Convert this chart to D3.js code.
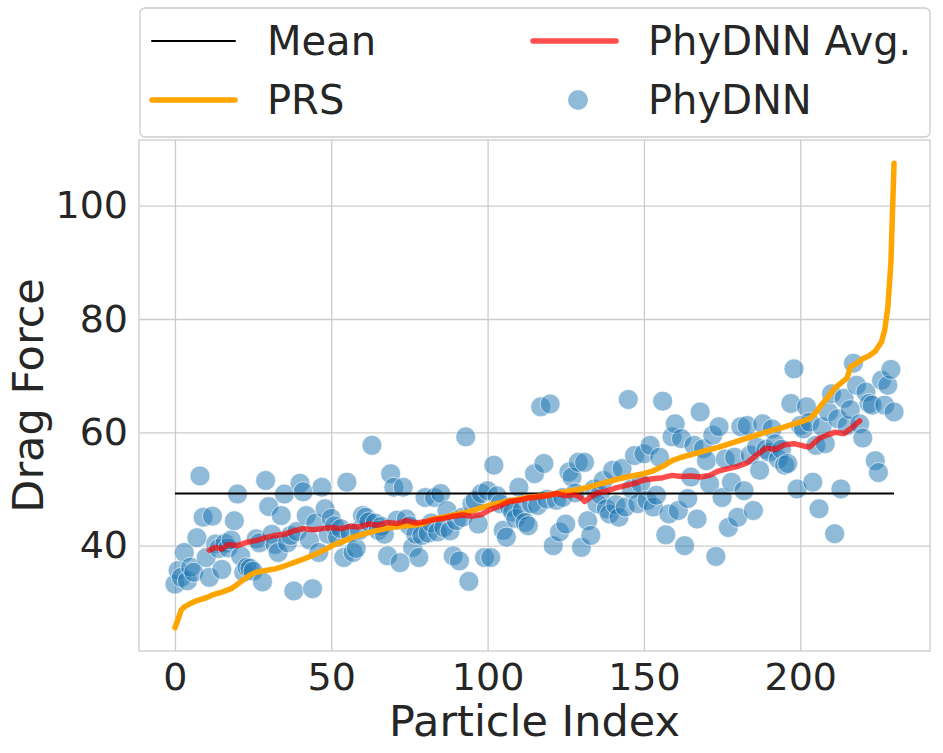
<!DOCTYPE html>
<html>
<head>
    <title></title>
    <script src="https://d3js.org/d3.v7.min.js"></script>
    <style>
        body { margin: 0; background: #fff; }
        text { font-family: "DejaVu Sans", sans-serif; fill: #262626; }
    </style>
</head>
<body>
    <svg id="chart" width="943" height="753"></svg>

    <script>
    // PhyDNN predictions, one per particle index 0..230
    let phydnn = [
        33.2, 35.6, 34.4, 38.8, 33.8, 36.2, 35.3, 41.4, 52.3, 45.0,
        37.9, 34.4, 45.2, 40.3, 39.5, 35.8, 40.4, 39.6, 41.0, 44.4,
        49.1, 38.2, 35.3, 36.2, 36.0, 35.5, 41.2, 40.5, 33.6, 51.5,
        46.9, 42.0, 40.2, 38.8, 45.3, 49.1, 40.5, 41.8, 32.0, 42.5,
        51.0, 49.5, 45.3, 41.0, 32.4, 44.0, 38.8, 50.3, 46.5, 42.0,
        44.8, 43.5, 41.5, 43.0, 37.9, 51.2, 42.2, 38.8, 39.5, 42.7,
        45.3, 45.0, 44.2, 57.7, 44.0, 42.7, 43.4, 42.0, 38.2, 52.7,
        50.3, 44.5, 37.0, 50.3, 44.7, 43.5, 39.7, 42.0, 37.9, 41.8,
        48.5, 42.2, 44.0, 48.5, 42.4, 49.2, 43.2, 46.2, 42.6, 38.2,
        44.4, 37.3, 45.0, 59.2, 33.7, 47.4, 48.0, 43.8, 49.2, 37.9,
        49.7, 37.9, 54.2, 48.8, 47.4, 42.7, 41.5, 46.8, 45.9, 44.8,
        50.3, 46.2, 44.1, 43.5, 47.4, 52.7, 47.1, 64.5, 54.5, 48.2,
        65.0, 40.0, 48.0, 42.4, 48.5, 43.8, 53.0, 52.1, 49.3, 54.7,
        39.7, 54.7, 44.4, 41.8, 50.0, 47.4, 49.0, 51.5, 46.5, 45.6,
        53.3, 47.2, 45.0, 53.6, 46.8, 65.8, 50.0, 55.9, 47.4, 51.0,
        56.2, 48.0, 57.7, 46.8, 48.9, 55.6, 65.5, 41.9, 45.6, 59.2,
        61.5, 46.2, 58.9, 40.0, 48.3, 52.1, 57.7, 44.7, 63.6, 57.1,
        55.0, 50.9, 59.5, 38.1, 61.0, 48.5, 55.3, 43.2, 51.2, 55.6,
        45.0, 61.0, 49.7, 61.2, 56.0, 46.2, 57.4, 53.3, 61.5, 57.0,
        56.5, 60.6, 58.0, 55.3, 57.0, 54.2, 54.5, 65.1, 71.2, 50.0,
        61.2, 60.6, 64.5, 61.8, 51.2, 57.7, 46.5, 61.0, 58.0, 63.6,
        66.8, 42.1, 62.4, 50.0, 66.0, 61.2, 64.0, 72.2, 68.3, 61.5,
        59.0, 67.1, 65.1, 64.8, 55.0, 52.9, 69.2, 64.8, 68.3, 71.1,
        63.6
    ];

    // PRS (sorted), read at these indices
    let prsIdx = [0, 1, 2, 3, 5, 7, 10, 12, 15, 18, 21, 24, 26, 29, 32, 35, 38, 41, 45, 48,
                  51, 54, 57, 60, 64, 68, 72, 76, 79, 82, 86, 90, 94, 98, 102, 106, 110, 114, 118, 122,
                  126, 130, 134, 138, 142, 146, 150, 153, 156, 159, 162, 166, 170, 174, 178, 182, 186, 190, 194, 198,
                  201, 203, 205, 207, 209, 211, 213, 215, 216, 218, 220, 222, 224, 226, 227, 228, 229, 230];
    let prsVal = [25.5, 27.0, 28.6, 29.2, 29.8, 30.3, 30.8, 31.3, 31.8, 32.4, 33.6, 34.8, 35.3, 35.6, 35.9, 36.4, 37.0, 37.6, 38.5, 39.3,
                  40.2, 40.8, 41.5, 42.0, 42.6, 43.1, 43.4, 43.6, 43.8, 44.6, 45.0, 45.5, 46.0, 46.7, 47.3, 47.8, 48.2, 48.6, 48.8, 49.2,
                  49.6, 50.0, 50.6, 51.2, 51.8, 52.3, 52.7, 53.2, 54.0, 55.0, 55.6, 56.2, 56.8, 57.4, 58.1, 58.8, 59.5, 60.2, 60.8, 61.5,
                  62.0, 62.4, 63.5, 65.0, 66.3, 67.8, 68.7, 69.6, 71.5, 72.2, 73.0, 73.5, 74.3, 76.0, 78.0, 82.0, 90.0, 107.5];

    // PhyDNN rolling average
    let avgIdx = [11, 13, 15, 17, 20, 23, 26, 29, 32, 35, 38, 41, 44, 47, 50, 53, 56, 59, 62, 65, 68,
                  71, 74, 77, 80, 83, 86, 89, 92, 95, 98, 101, 104, 107, 110, 113, 116, 119, 122, 125, 128,
                  130, 131, 133, 135, 138, 141, 144, 147, 150, 153, 156, 159, 162, 165, 168, 171, 174, 177, 180, 183,
                  186, 189, 192, 195, 198, 201, 203, 206, 209, 211, 214, 216, 219];
    let avgVal = [39.2, 39.7, 39.4, 40.2, 40.0, 40.6, 40.9, 41.4, 41.8, 42.0, 42.6, 43.0, 42.8, 43.0, 43.2, 43.0, 43.4, 43.3, 43.8, 43.6, 44.1,
                  43.9, 44.4, 44.0, 44.2, 44.6, 44.8, 45.2, 45.4, 45.2, 45.5, 46.4, 47.0, 47.8, 48.0, 48.4, 48.6, 48.8, 49.2, 48.8, 49.0,
                  48.4, 47.8, 48.6, 49.3, 49.6, 50.2, 50.6, 51.0, 51.6, 51.8, 52.0, 52.4, 52.2, 52.3, 52.1, 52.4, 53.2, 53.6, 54.0, 54.6,
                  56.0, 57.2, 57.0, 57.8, 58.0, 57.6, 57.4, 58.9, 59.6, 60.0, 59.8, 60.6, 62.0];

    let meanValue = 49.2;
    let xTicks = [0, 50, 100, 150, 200];
    let yTicks = [40, 60, 80, 100];

    let svg = d3.select("#chart");
    let pL = 139, pR = 930, pT = 140, pB = 651;

    let x = d3.scaleLinear().domain([-11.5, 241.5]).range([pL, pR]);
    let y = d3.scaleLinear().domain([21.4, 111.6]).range([pB, pT]);

    // grid
    svg.append("g")
        .attr("transform", "translate(0," + pB + ")")
        .call(d3.axisBottom(x).tickValues(xTicks).tickSize(-(pB - pT)).tickFormat(""))
        .call(g => g.select(".domain").remove())
        .call(g => g.selectAll("line").attr("stroke", "#cccccc").attr("stroke-width", 1.3));
    svg.append("g")
        .attr("transform", "translate(" + pL + ",0)")
        .call(d3.axisLeft(y).tickValues(yTicks).tickSize(-(pR - pL)).tickFormat(""))
        .call(g => g.select(".domain").remove())
        .call(g => g.selectAll("line").attr("stroke", "#cccccc").attr("stroke-width", 1.3));

    // frame
    svg.append("rect")
        .attr("x", pL).attr("y", pT)
        .attr("width", pR - pL).attr("height", pB - pT)
        .attr("fill", "none").attr("stroke", "#cccccc").attr("stroke-width", 1.3);

    // tick labels
    svg.append("g")
        .attr("transform", "translate(0," + pB + ")")
        .call(d3.axisBottom(x).tickValues(xTicks).tickSize(0).tickPadding(12))
        .call(g => g.select(".domain").remove())
        .selectAll("text").attr("font-size", 38).attr("fill", "#262626");
    svg.append("g")
        .attr("transform", "translate(" + pL + ",0)")
        .call(d3.axisLeft(y).tickValues(yTicks).tickSize(0).tickPadding(11))
        .call(g => g.select(".domain").remove())
        .selectAll("text").attr("font-size", 38).attr("fill", "#262626");

    // axis titles
    svg.append("text")
        .attr("x", (pL + pR) / 2).attr("y", 736)
        .attr("text-anchor", "middle").attr("font-size", 43)
        .text("Particle Index");
    svg.append("text")
        .attr("transform", "translate(43," + ((pT + pB) / 2) + ") rotate(-90)")
        .attr("text-anchor", "middle").attr("font-size", 43)
        .text("Drag Force");

    // scatter
    svg.append("g").selectAll("circle")
        .data(phydnn)
        .join("circle")
        .attr("cx", (d, i) => x(i))
        .attr("cy", d => y(d))
        .attr("r", 10)
        .attr("fill", "#1f77b4")
        .attr("fill-opacity", 0.5)
        .attr("stroke", "#ffffff")
        .attr("stroke-opacity", 0.6)
        .attr("stroke-width", 1);

    // mean
    svg.append("line")
        .attr("x1", x(0)).attr("x2", x(phydnn.length - 1))
        .attr("y1", y(meanValue)).attr("y2", y(meanValue))
        .attr("stroke", "#000").attr("stroke-width", 2);

    let line = d3.line().x(d => x(d[0])).y(d => y(d[1]));

    // PRS
    svg.append("path")
        .attr("d", line(prsIdx.map((d, i) => [d, prsVal[i]])))
        .attr("fill", "none").attr("stroke", "orange")
        .attr("stroke-width", 5.5).attr("stroke-linejoin", "round").attr("stroke-linecap", "round");

    // PhyDNN Avg.
    svg.append("path")
        .attr("d", line(avgIdx.map((d, i) => [d, avgVal[i]])))
        .attr("fill", "none").attr("stroke", "red").attr("stroke-opacity", 0.7)
        .attr("stroke-width", 5.5).attr("stroke-linejoin", "round").attr("stroke-linecap", "round");

    // legend
    let lg = svg.append("g");
    lg.append("rect")
        .attr("x", 140).attr("y", 8).attr("width", 790).attr("height", 129)
        .attr("rx", 5).attr("fill", "#fff").attr("stroke", "#cccccc").attr("stroke-width", 1.3);

    let items = [
        { label: "Mean", kind: "line", color: "#000", w: 2, op: 1, cx: 152, cy: 41 },
        { label: "PRS", kind: "line", color: "orange", w: 5.5, op: 1, cx: 152, cy: 100 },
        { label: "PhyDNN Avg.", kind: "line", color: "red", w: 5.5, op: 0.7, cx: 533, cy: 41 },
        { label: "PhyDNN", kind: "dot", color: "#1f77b4", cx: 533, cy: 100 }
    ];
    items.forEach(it => {
        if (it.kind === "line") {
            lg.append("line")
                .attr("x1", it.cx).attr("x2", it.cx + 83)
                .attr("y1", it.cy).attr("y2", it.cy)
                .attr("stroke", it.color).attr("stroke-width", it.w)
                .attr("stroke-opacity", it.op).attr("stroke-linecap", "round");
        } else {
            lg.append("circle")
                .attr("cx", it.cx + 45).attr("cy", it.cy).attr("r", 10)
                .attr("fill", "#1f77b4").attr("fill-opacity", 0.5);
        }
        lg.append("text")
            .attr("x", it.cx + 115).attr("y", it.cy + 14)
            .attr("font-size", 40)
            .text(it.label);
    });
    </script>
</body></html>
